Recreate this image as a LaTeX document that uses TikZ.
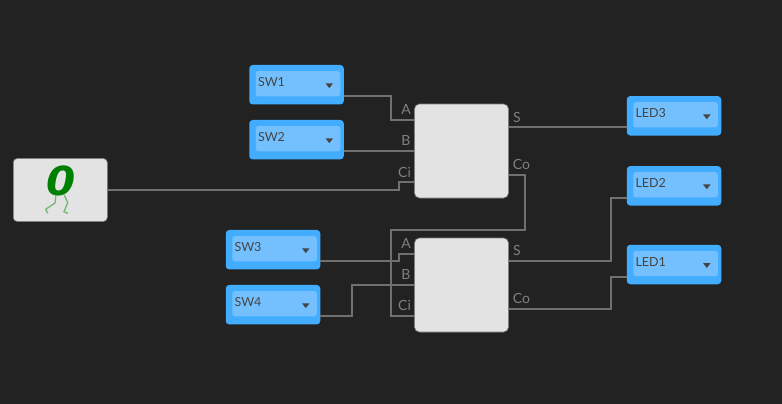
\documentclass[tikz,border=0pt]{standalone}
\usepackage{fontspec}
\setmainfont{Lato}
\newfontfamily\zerofont[BoldItalicFont=DejaVu Sans Bold Oblique]{DejaVu Sans}
\usetikzlibrary{positioning}
\definecolor{bgdark}{HTML}{222222}
\definecolor{wiregray}{HTML}{707070}
\definecolor{pingray}{HTML}{808080}
\definecolor{boxgray}{HTML}{E3E3E3}
\definecolor{ioblue}{HTML}{42ADFF}
\definecolor{ioinner}{HTML}{74C0FF}
\definecolor{iotext}{HTML}{444444}
\definecolor{zerogreen}{HTML}{008000}
\definecolor{leggreen}{HTML}{70B870}
\tikzset{
  iobox/.style={fill=ioblue,rounded corners=3.5pt,minimum width=94.5pt,minimum height=39.5pt,inner sep=0pt,draw=none},
  ioface/.style={fill=ioinner,rounded corners=2.5pt,minimum width=84.5pt,minimum height=25.3pt,inner sep=0pt,draw=none},
  iolabel/.style={font=\fontsize{12.5}{14}\selectfont,text=iotext,inner sep=0pt,anchor=west},
  adder/.style={fill=boxgray,draw=pingray,line width=0.6pt,rounded corners=5pt,minimum width=94pt,minimum height=94pt,inner sep=0pt},
  wire/.style={draw=wiregray,line width=1.5pt},
  pin/.style={font=\fontsize{14}{16}\selectfont,text=pingray,inner sep=0pt}
}
\begin{document}
\begin{tikzpicture}[x=1pt,y=-1pt]
\useasboundingbox[fill=bgdark] (0,0) rectangle (782,404);
% inputs and outputs
\foreach \nm/\txt/\cx/\cy in {sw1/SW1/296.5/84.7,sw2/SW2/296.5/139.7,sw3/SW3/273/249.7,sw4/SW4/273/304.7,
    led3/LED3/674/115.8,led2/LED2/674/185.8,led1/LED1/674/264.5} {
  \node[iobox] (\nm) at (\cx,\cy) {};
  \node[ioface] (\nm f) at (\cx+1.5,\cy-1) {};
  \node[iolabel] (\nm t) at (\cx-38.7,\cy-2.7) {\txt};
  \fill[iotext] (\cx+29,\cy-1.4) -- ++(7.6,0) -- ++(-3.8,4.8) -- cycle;
}
% adders
\node[adder] (fa1) at (461.5,151) {};
\node[adder] (fa2) at (461.5,285) {};
% constant source
\node[fill=boxgray,draw=pingray,line width=0.6pt,rounded corners=4pt,minimum width=94pt,minimum height=63pt,inner sep=0pt] (zero) at (60.3,190) {};
\node[inner sep=0pt,text=zerogreen,font=\zerofont\fontsize{40}{40}\bfseries\itshape,transform shape,xscale=1.05] (zerot) at (61,181.3) {0};
\draw[leggreen,line width=1.3pt] (56,195) -- (55,203) -- (45.7,209.3) -- (47.7,213.3);
\draw[leggreen,line width=1.3pt] (64.3,195) -- (67.7,202.7) -- (64,211.7) -- (68,213.3);
% wires
\coordinate (hop) at (391,230);
\draw[wire] ([yshift=-11.3pt]sw1.east) -| (391,120) -- ([yshift=31pt]fa1.west);
\draw[wire] (sw2.east |- fa1.west) -- (fa1.west);
\draw[wire] (zero.east) -| (399,182) -- ([yshift=-31pt]fa1.west);
\draw[wire] ([yshift=24pt]fa1.east) -- ([yshift=24pt]fa1.east -| led3.west);
\draw[wire] ([yshift=-24pt]fa1.east) -| (525,230) -- (hop) |- ([yshift=-31pt]fa2.west);
\draw[wire] ([yshift=-11.3pt]sw3.east) -| (399,254) -- ([yshift=31pt]fa2.west);
\draw[wire] ([yshift=-11.3pt]sw4.east) -| (352,285) -- (fa2.west);
\draw[wire] ([yshift=24pt]fa2.east) -| (611,198) -- ([yshift=-12.2pt]led2.west);
\draw[wire] ([yshift=-24pt]fa2.east) -| (611,277) -- ([yshift=-12.5pt]led1.west);
% pin labels
\node[pin] (fa1a) at (406,109.5) {A};
\node[pin] (fa1b) at (406,140.5) {B};
\node[pin] (fa1c) at (404.5,172) {Ci};
\node[pin] (fa1s) at (517,117.5) {S};
\node[pin] (fa1o) at (521.5,164) {Co};
\node[pin] (fa2a) at (406,243) {A};
\node[pin] (fa2b) at (406,274) {B};
\node[pin] (fa2c) at (404.5,305.5) {Ci};
\node[pin] (fa2s) at (517,250.5) {S};
\node[pin] (fa2o) at (521.5,298) {Co};
\end{tikzpicture}
\end{document}
